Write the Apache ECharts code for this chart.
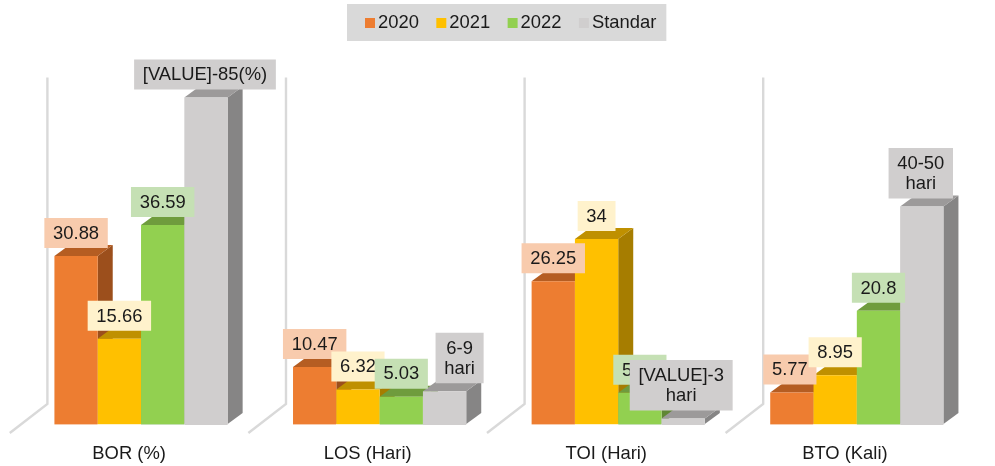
<!DOCTYPE html>
<html>
<head>
<meta charset="utf-8">
<style>html,body{margin:0;padding:0;background:#fff}#c{width:995px;height:466px}</style>
<script src="https://cdn.jsdelivr.net/npm/echarts@6/dist/echarts.min.js"></script>
</head>
<body>
<div id="c"></div>
<script>
const categories = ['BOR (%)', 'LOS (Hari)', 'TOI (Hari)', 'BTO (Kali)'];
const seriesNames = ['2020', '2021', '2022', 'Standar'];
const values2020 = [30.88, 10.47, 26.25, 5.77];
const values2021 = [15.66, 6.32, 34, 8.95];
const values2022 = [36.59, 5.03, 5.73, 20.8];
const valuesStandar = [60, 6, 1, 40];
const labels2020 = ['30.88', '10.47', '26.25', '5.77'];
const labels2021 = ['15.66', '6.32', '34', '8.95'];
const labels2022 = ['36.59', '5.03', '5.73', '20.8'];
const labelsStandar = ['[VALUE]-85(%)', '6-9\nhari', '[VALUE]-3\nhari', '40-50\nhari'];

const allValues = [values2020, values2021, values2022, valuesStandar];
const allLabels = [labels2020, labels2021, labels2022, labelsStandar];
const palette = [
  {front:'#ED7D31', top:'#B55D22', side:'#9C4F1C', label:'#F8CBAD'},
  {front:'#FFC000', top:'#BF9000', side:'#A67D00', label:'#FFF2CC'},
  {front:'#92D050', top:'#6F9C3D', side:'#5F8734', label:'#C5E0B4'},
  {front:'#D0CECE', top:'#9C9A9A', side:'#868585', label:'#D0CECE'}
];
const FONT = '"Liberation Sans", Arial, sans-serif';
const DX = 15, DY = 11;
const labelShift = {'0_3': -1, '1_3': 15, '2_3': -2, '3_0': -2, '3_3': -1};

function barRenderer(si) {
  return function (params, api) {
    const cat = api.value(0), val = api.value(1);
    const band = api.size([1, 0])[0];
    const w = band * 0.1815;
    const c = api.coord([cat, val]);
    const base = api.coord([cat, 0])[1];
    const x = c[0] + band * 0.05 + (si - 2) * w;
    const y = c[1];
    const col = palette[si];
    const shift = labelShift[params.dataIndex + '_' + si] || 0;
    return {
      type: 'group',
      children: [
        {type:'polygon', z2: si*3+1, shape:{points:[[x+w,y],[x+w+DX,y-DY],[x+w+DX,base-DY],[x+w,base]]}, style:{fill:col.side}},
        {type:'polygon', z2: si*3+2, shape:{points:[[x,y],[x+w,y],[x+w+DX,y-DY],[x+DX,y-DY]]}, style:{fill:col.top}},
        {type:'rect', z2: si*3+3, shape:{x:x,y:y,width:w,height:base-y}, style:{fill:col.front}},
        {type:'rect', z2: si*3+3, shape:{x:x,y:base,width:w,height:1}, style:{fill:col.label}},
        {type:'text', z2: 100+si, x: x+w/2+shift, y: y-8,
          style:{text: allLabels[si][params.dataIndex], fill:'#1a1a1a', font:'18.4px '+FONT,
            align:'center', verticalAlign:'bottom', textAlign:'center', textVerticalAlign:'bottom',
            lineHeight:20.5, backgroundColor:col.label, padding:[5.5,8.7,4,8.7]}}
      ]
    };
  };
}

function wallRenderer(params, api) {
  const cat = api.value(0);
  const band = api.size([1, 0])[0];
  const cx = api.coord([cat, 0])[0];
  const base = api.coord([cat, 0])[1];
  const top = api.coord([cat, 60])[1];
  const left = cx - band/2;
  const stroke = {stroke:'#D9D9D9', lineWidth:2.4, fill:null};
  return {
    type:'group',
    children:[
      {type:'polyline', z2:0, shape:{points:[[left,base+9],[left+37.6,base-20],[left+37.6,top-20]]}, style:stroke}
    ]
  };
}

const series = [{
  name:'walls', type:'custom', silent:true, renderItem:wallRenderer, clip:false,
  data: categories.map((c,i)=>[i,0]), encode:{x:0,y:1}, legendHoverLink:false
}];
seriesNames.forEach((n,si)=>{
  series.push({
    name:n, type:'custom', renderItem:barRenderer(si), clip:false,
    itemStyle:{color:palette[si].front},
    data: allValues[si].map((v,i)=>[i,v]), encode:{x:0,y:1}
  });
});

const chart = echarts.init(document.getElementById('c'), null, {renderer:'canvas'});
chart.setOption({
  animation:false,
  backgroundColor:'#ffffff',
  legend:{
    data:seriesNames.map(n=>({name:n, icon:'rect'})),
    left:347, top:4, itemWidth:10, itemHeight:10, itemGap:17.4,
    padding:[10,10,9,18], backgroundColor:'#D9D9D9',
    textStyle:{fontFamily:FONT, fontSize:18.4, color:'#1a1a1a', padding:[0,0,0,-2]}
  },
  grid:{left:9.8, width:954.4, top:97.6, height:326.4, containLabel:false},
  xAxis:{type:'category', data:categories,
    axisLine:{show:false}, axisTick:{show:false}, splitLine:{show:false},
    axisLabel:{fontFamily:FONT, fontSize:18.4, color:'#1a1a1a', margin:20.5, interval:0}},
  yAxis:{type:'value', min:0, max:60, show:false, splitLine:{show:false}},
  series:series
});
</script>
</body>
</html>
